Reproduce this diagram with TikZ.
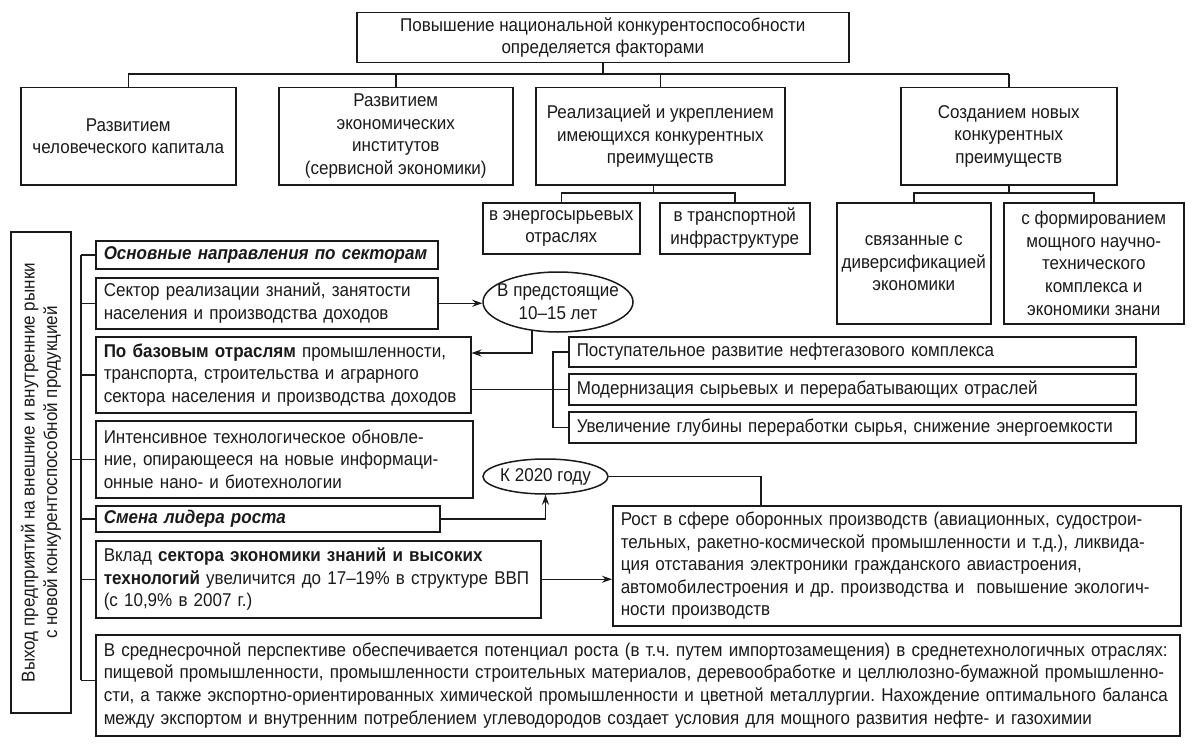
\documentclass[tikz,border=0pt]{standalone}
\usepackage{fontspec}
\setmainfont{Liberation Sans}[FakeStretch=0.92]
\usetikzlibrary{arrows.meta,shapes.geometric}
\definecolor{ink}{HTML}{1A1A1A}
\newcommand{\tx}{\fontsize{18.5pt}{22.6pt}\selectfont\frenchspacing}
\newcommand{\mb}[1]{\mbox{#1}}
\newcommand{\zb}[1]{\makebox[0pt]{#1}}
\tikzset{
  box/.style={draw=ink, line width=1.5pt, inner xsep=8pt, inner ysep=0pt, text=ink, font=\tx},
  lbox/.style={box, align=left, anchor=north west},
  cbox/.style={box, align=center, anchor=north west},
  ell/.style={draw=ink, line width=1.5pt, ellipse, inner sep=0pt, text=ink, font=\tx, align=center},
  con/.style={draw=ink, line width=1.5pt},
  arr/.style={con, -{Stealth[length=10pt,width=7pt]}},
}
\begin{document}
\begin{tikzpicture}[x=1pt,y=-1pt]
\fill[white] (0,0) rectangle (1198,749);
\useasboundingbox (0,0) rectangle (1198,749);

% top level
\node[cbox, minimum width=492pt, minimum height=50pt] (top) at (356,12) {Повышение национальной конкурентоспособности\\определяется факторами};
\node[cbox, minimum width=215pt, minimum height=97pt] (b1) at (20,87) {Развитием\\человеческого капитала};
\node[cbox, minimum width=234pt, minimum height=97pt] (b2) at (278,87) {Развитием\\экономических\\институтов\\(сервисной экономики)};
\node[cbox, minimum width=249pt, minimum height=97pt] (b3) at (535,87) {Реализацией и укреплением\\имеющихся конкурентных\\преимуществ};
\node[cbox, minimum width=216pt, minimum height=97pt] (b4) at (900,87) {Созданием новых\\конкурентных\\преимуществ};

\node[cbox, inner xsep=2pt, minimum width=157pt, minimum height=51pt] (s1) at (482,202) {в энергосырьевых\\отраслях};
\node[cbox, inner xsep=2pt, minimum width=150pt, minimum height=51pt] (s2) at (659,202) {в транспортной\\инфраструктуре};
\node[cbox, inner xsep=2pt, minimum width=154pt, minimum height=121pt] (s3) at (836,202) {связанные с\\диверсификацией\\экономики};
\node[cbox, inner xsep=2pt, minimum width=180pt, minimum height=121pt] (s4) at (1003,202) {с формированием\\мощного научно-\\технического\\комплекса и\\экономики знани};

% left vertical box
\node[box, rotate=90, align=center, minimum width=481pt, minimum height=60pt] (lb) at (41,472.5) {Выход предприятий на внешние и внутренние рынки\\с новой конкурентоспособной продукцией};

% left column
\node[lbox, text width=326pt, minimum height=28pt] (L1) at (95,240) {\mb{\textbf{\textit{Основные направления по секторам}}}};
\node[lbox, text width=326pt, minimum height=51pt] (L2) at (95,277) {\mb{Сектор реализации знаний, занятости}\\\mb{населения и производства доходов}};
\node[lbox, text width=359pt, minimum height=76pt] (L3) at (95,336) {\mb{\textbf{По базовым отраслям} промышленности,}\\\mb{транспорта, строительства и аграрного}\\\mb{сектора населения и производства доходов}};
\node[lbox, text width=361pt, minimum height=77pt] (L4) at (95,420) {\mb{Интенсивное технологическое обновле-}\\\mb{ние, опирающееся на новые информаци-}\\\mb{онные нано- и биотехнологии}};
\node[lbox, text width=328pt, minimum height=26pt] (L5) at (95,505) {\mb{\textbf{\textit{Смена лидера роста}}}};
\node[lbox, text width=429pt, minimum height=77pt] (L6) at (95,540) {\mb{Вклад \textbf{сектора экономики знаний и высоких}}\\\mb{\textbf{технологий} увеличится до 17–19\% в структуре ВВП}\\\mb{(с 10,9\% в 2007 г.)}};
\node[lbox, text width=1068pt, minimum height=101pt] (L7) at (95,634) {\mb{В среднесрочной перспективе обеспечивается потенциал роста (в т.ч. путем импортозамещения) в среднетехнологичных отраслях:}\\\mb{пищевой промышленности, промышленности строительных материалов, деревообработке и целлюлозно-бумажной промышленно-}\\\mb{сти, а также экспортно-ориентированных химической промышленности и цветной металлургии. Нахождение оптимального баланса}\\\mb{между экспортом и внутренним потреблением углеводородов создает условия для мощного развития нефте- и газохимии}};

% right column
\node[lbox, text width=551pt, minimum height=30pt] (R1) at (568,336) {\mb{Поступательное развитие нефтегазового комплекса}};
\node[lbox, text width=551pt, minimum height=31pt] (R2) at (568,373) {\mb{Модернизация сырьевых и перерабатывающих отраслей}};
\node[lbox, text width=551pt, minimum height=31pt] (R3) at (568,411) {\mb{Увеличение глубины переработки сырья, снижение энергоемкости}};
\node[lbox, text width=552pt, minimum height=120pt] (rost) at (612,505) {\mb{Рост в сфере оборонных производств (авиационных, судострои-}\\\mb{тельных, ракетно-космической промышленности и т.д.), ликвида-}\\\mb{ция отставания электроники гражданского авиастроения,}\\\mb{автомобилестроения и др. производства и\ \ повышение экологич-}\\\mb{ности производств}};

% ellipses
\node[ell, minimum width=150pt, minimum height=60pt] (ell1) at (558,302) {\zb{В предстоящие}\\\zb{10–15 лет}};
\node[ell, minimum width=125pt, minimum height=35pt] (ell2) at (545.5,476.5) {\zb{К 2020 году}};

% top connectors
\coordinate (bus) at (600,74);
\draw[con] (top.south) -- (top.south |- bus);
\draw[con] (b1.north |- bus) -- (b4.north |- bus);
\foreach \n in {b1,b2,b3,b4} \draw[con] (\n.north) -- (\n.north |- bus);

\coordinate (sbus1) at ([yshift=9pt]s1.north);
\draw[con] ([xshift=-7pt]b3.south) -- ([xshift=-7pt]b3.south |- sbus1);
\draw[con] (s1.north) -- (sbus1) -| (s2.north);
\coordinate (sbus2) at ([yshift=9pt]s3.north);
\draw[con] (b4.south) -- (b4.south |- sbus2);
\draw[con] (s3.north) -- (sbus2) -| (s4.north);

% spine
\coordinate (sp) at (81,0);
\coordinate (L7b) at ([yshift=5pt]L7.west);
\draw[con] (L1.west -| sp) -- (L7b -| sp);
\foreach \n in {L1,L2,L3,L4,L5,L6} \draw[con] (\n.west -| sp) -- (\n.west);
\draw[con] (L7b -| sp) -- (L7b);
\draw[con] (L4.west -| lb.south) -- (L4.west -| sp);

% arrows
\draw[arr] (L2.east) -- (L2.east -| ell1.west);
\draw[arr] (ell1.228) |- ([yshift=-17pt]L3.north east);
\draw[con] (L3.east |- R2.west) -- (R2.west);
\draw[con] (R1.west) -- ++(-15,0) |- (R3.west);
\draw[arr] (L5.east) -| (ell2.south);
\draw[con] (ell2.east) -| ([xshift=149pt]rost.north west);
\draw[arr] (L6.east) -- (L6.east -| rost.west);
\end{tikzpicture}
\end{document}
